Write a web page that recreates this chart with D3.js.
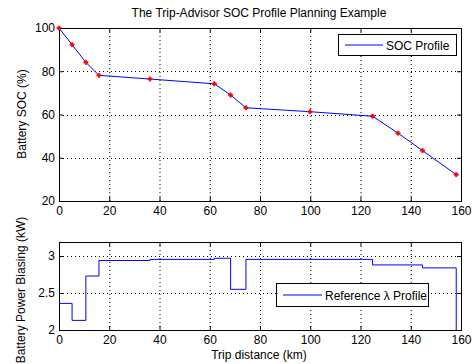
<!DOCTYPE html>
<html>
<head>
<meta charset="utf-8">
<script src="https://cdn.jsdelivr.net/npm/d3@7"></script>
<style>
  body { margin: 0; background: #fff; }
  svg text { font-family: "Liberation Sans", Arial, sans-serif; fill: #000; }
</style>
</head>
<body>
<svg id="chart" width="474" height="364"></svg>
<script>
// SOC waypoints (trip km, SOC %)
const socKm = [0, 5.2, 10.7, 15.9, 36.2, 61.8, 68.3, 74.4, 99.9, 124.8, 134.9, 144.7, 158.1];
const socPct = [100, 92.3, 84.1, 78.1, 76.4, 74.2, 69.0, 63.1, 61.3, 59.2, 51.4, 43.3, 32.2];

// reference lambda profile, one value per segment between waypoints
const lambdaKw = [2.36, 2.13, 2.73, 2.94, 2.955, 2.97, 2.55, 2.955, 2.955, 2.88, 2.88, 2.84];

const xTicks = [0, 20, 40, 60, 80, 100, 120, 140, 160];
const socTicks = [20, 40, 60, 80, 100];
const lamTicks = [2, 2.5, 3];

const svg = d3.select('#chart');
const left = 59, right = 461;
const fs = '12px';

const x = d3.scaleLinear().domain([0, 160]).range([left, right]);
const ySoc = d3.scaleLinear().domain([20, 100]).range([201, 28]);
const yLam = d3.scaleLinear().domain([2, 3.19]).range([330, 242]);

function drawAxes(y, yticks, fmt) {
  const [yb, yt] = y.range();
  const g = svg.append('g');
  // grid
  g.selectAll('.gx').data(xTicks.slice(1, -1)).enter().append('line')
    .attr('x1', d => x(d) + 0.5).attr('x2', d => x(d) + 0.5).attr('y1', yt).attr('y2', yb)
    .attr('stroke', '#000').attr('stroke-width', 1).attr('stroke-dasharray', '1,3');
  g.selectAll('.gy').data(yticks.filter(d => y(d) > yt + 1 && y(d) < yb - 1)).enter().append('line')
    .attr('x1', left).attr('x2', right).attr('y1', d => Math.round(y(d)) + 0.5).attr('y2', d => Math.round(y(d)) + 0.5)
    .attr('stroke', '#000').attr('stroke-width', 1).attr('stroke-dasharray', '1,3');

  const ax = (axis, tx, ty) => g.append('g').attr('transform', `translate(${tx},${ty})`).call(axis);
  const style = sel => {
    sel.select('.domain').remove();
    sel.selectAll('.tick line').attr('stroke', '#000');
    sel.selectAll('.tick text').style('font-size', fs).attr('fill', '#000');
  };
  style(ax(d3.axisBottom(x).tickValues(xTicks).tickSizeInner(-4).tickPadding(5), 0, yb));
  style(ax(d3.axisTop(x).tickValues(xTicks).tickSizeInner(-4).tickFormat(''), 0, yt));
  style(ax(d3.axisLeft(y).tickValues(yticks).tickSizeInner(-4).tickPadding(4).tickFormat(fmt), left, 0));
  style(ax(d3.axisRight(y).tickValues(yticks).tickSizeInner(-4).tickFormat(''), right, 0));
  g.append('rect').attr('x', left + 0.5).attr('y', yt + 0.5).attr('width', right - left).attr('height', yb - yt)
    .attr('fill', 'none').attr('stroke', '#000').attr('stroke-width', 1);
  return g;
}

// top panel
drawAxes(ySoc, socTicks, d3.format('d'));
const socData = socKm.map((k, i) => [k, socPct[i]]);
svg.append('path').datum(socData)
  .attr('d', d3.line().x(d => x(d[0])).y(d => ySoc(d[1])))
  .attr('fill', 'none').attr('stroke', '#0000ff').attr('stroke-width', 1);
svg.selectAll('.mk').data(socData).enter().append('path')
  .attr('transform', d => `translate(${x(d[0])},${ySoc(d[1])})`)
  .attr('d', d3.symbol().type(d3.symbolCross).size(10))
  .attr('fill', '#ff0000').attr('stroke', '#ff0000').attr('stroke-width', 0.7);

svg.append('text').attr('x', 259).attr('y', 17).attr('text-anchor', 'middle')
  .style('font-size', fs).text('The Trip-Advisor SOC Profile Planning Example');
svg.append('text').attr('transform', 'translate(26,114) rotate(-90)').attr('text-anchor', 'middle')
  .style('font-size', fs).text('Battery SOC (%)');

// legend top
svg.append('rect').attr('x', 338.5).attr('y', 34.5).attr('width', 118).attr('height', 21)
  .attr('fill', '#fff').attr('stroke', '#000');
svg.append('line').attr('x1', 345).attr('x2', 383).attr('y1', 45).attr('y2', 45)
  .attr('stroke', '#0000ff');
svg.append('text').attr('x', 386).attr('y', 49.5).style('font-size', fs).text('SOC Profile');

// bottom panel
drawAxes(yLam, lamTicks, d => d === 2.5 ? '2.5' : d3.format('d')(d));
const stepData = lambdaKw.map((v, i) => [socKm[i], v]);
stepData.push([socKm[socKm.length - 1], lambdaKw[lambdaKw.length - 1]]);
stepData.push([socKm[socKm.length - 1], 2]);
svg.append('path').datum(stepData)
  .attr('d', d3.line().curve(d3.curveStepAfter).x(d => x(d[0])).y(d => yLam(d[1])))
  .attr('fill', 'none').attr('stroke', '#0000ff').attr('stroke-width', 1);

svg.append('text').attr('transform', 'translate(25,290) rotate(-90)').attr('text-anchor', 'middle')
  .style('font-size', fs).text('Battery Power Biasing (kW)');
svg.append('text').attr('x', 259).attr('y', 359).attr('text-anchor', 'middle')
  .style('font-size', fs).text('Trip distance (km)');

// legend bottom
svg.append('rect').attr('x', 276.5).attr('y', 283.5).attr('width', 152).attr('height', 23)
  .attr('fill', '#fff').attr('stroke', '#000');
svg.append('line').attr('x1', 283).attr('x2', 322).attr('y1', 295).attr('y2', 295)
  .attr('stroke', '#0000ff');
svg.append('text').attr('x', 325).attr('y', 299.5).style('font-size', fs).text('Reference λ Profile');
</script>
</body>
</html>
